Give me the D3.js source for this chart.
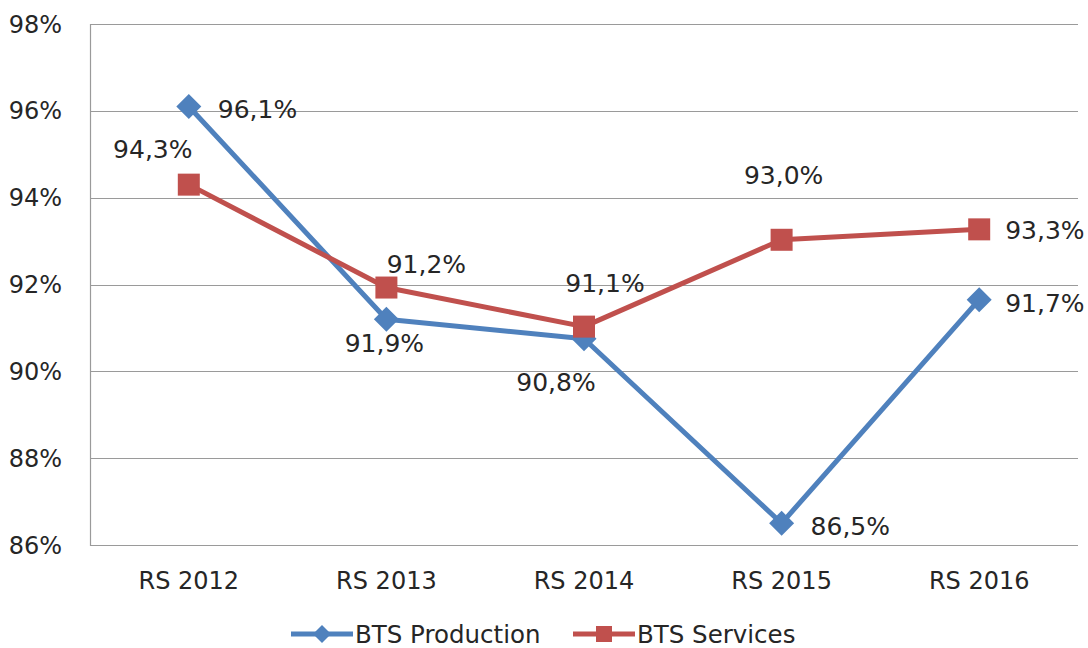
<!DOCTYPE html>
<html><head><meta charset="utf-8">
<script src="https://cdn.jsdelivr.net/npm/d3@7"></script>
<style>
html,body{margin:0;padding:0;background:#fff;}
text{font-family:"DejaVu Sans",sans-serif;fill:#262626;}
</style></head>
<body>
<svg id="chart" width="1088" height="648"></svg>
<script>
const categories = ["RS 2012", "RS 2013", "RS 2014", "RS 2015", "RS 2016"];
const productionValues = [96.1, 91.2, 90.75, 86.5, 91.65];
const servicesValues = [94.3, 91.93, 91.03, 93.03, 93.27];
const productionLabels = ["96,1%", "91,9%", "90,8%", "86,5%", "91,7%"];
const servicesLabels = ["94,3%", "91,2%", "91,1%", "93,0%", "93,3%"];
const yTicks = [86, 88, 90, 92, 94, 96, 98];
const seriesNames = ["BTS Production", "BTS Services"];

// label placement (layout only): [dx, dy, anchor]
const prodLabelPos = [[29, 3, "start"], [-2, 24, "middle"], [-28, 43, "middle"], [29, 3, "start"], [26, 3, "start"]];
const servLabelPos = [[-36, -36, "middle"], [40, -24, "middle"], [21, -44, "middle"], [2, -65, "middle"], [26, 1, "start"]];

const svg = d3.select("#chart");
const m = {left: 90, right: 1078, top: 24, bottom: 545};
const x = d3.scaleBand().domain(categories).range([m.left, m.right]);
const y = d3.scaleLinear().domain([86, 98]).range([m.bottom, m.top]);
const cx = c => x(c) + x.bandwidth() / 2;

// gridlines
svg.append("g").selectAll("line").data(yTicks).join("line")
  .attr("x1", m.left).attr("x2", m.right)
  .attr("y1", d => Math.round(y(d)) + 0.5).attr("y2", d => Math.round(y(d)) + 0.5)
  .attr("stroke", "#9a9a9a").attr("stroke-width", 1.2);
// left axis line
svg.append("line").attr("x1", m.left + 0.5).attr("x2", m.left + 0.5)
  .attr("y1", m.top).attr("y2", m.bottom + 1).attr("stroke", "#9a9a9a").attr("stroke-width", 1.2);

// y tick labels
svg.append("g").selectAll("text").data(yTicks).join("text")
  .attr("x", 62).attr("y", d => y(d)).attr("dy", "0.36em")
  .attr("text-anchor", "end").attr("font-size", 24)
  .text(d => d + "%");

// x labels
svg.append("g").selectAll("text").data(categories).join("text")
  .attr("x", d => cx(d)).attr("y", 589)
  .attr("text-anchor", "middle").attr("font-size", 24)
  .text(d => d);

const line = d3.line().x((d, i) => cx(categories[i])).y(d => y(d));
const blue = "#4F81BD", red = "#C0504D";

svg.append("path").datum(productionValues).attr("d", line)
  .attr("fill", "none").attr("stroke", blue).attr("stroke-width", 5).attr("stroke-linejoin", "round");
svg.append("path").datum(servicesValues).attr("d", line)
  .attr("fill", "none").attr("stroke", red).attr("stroke-width", 5).attr("stroke-linejoin", "round");

// markers
const dia = 12.5;
svg.append("g").selectAll("path").data(productionValues).join("path")
  .attr("d", (d, i) => {
    const px = cx(categories[i]), py = y(d);
    return `M${px},${py - dia}L${px + dia},${py}L${px},${py + dia}L${px - dia},${py}Z`;
  }).attr("fill", blue);
const sq = 22;
svg.append("g").selectAll("rect").data(servicesValues).join("rect")
  .attr("x", (d, i) => cx(categories[i]) - sq / 2).attr("y", d => y(d) - sq / 2)
  .attr("width", sq).attr("height", sq).attr("fill", red);

// data labels
svg.append("g").selectAll("text").data(productionValues).join("text")
  .attr("x", (d, i) => cx(categories[i]) + prodLabelPos[i][0])
  .attr("y", (d, i) => y(d) + prodLabelPos[i][1]).attr("dy", "0.36em")
  .attr("text-anchor", (d, i) => prodLabelPos[i][2]).attr("font-size", 25)
  .text((d, i) => productionLabels[i]);
svg.append("g").selectAll("text").data(servicesValues).join("text")
  .attr("x", (d, i) => cx(categories[i]) + servLabelPos[i][0])
  .attr("y", (d, i) => y(d) + servLabelPos[i][1]).attr("dy", "0.36em")
  .attr("text-anchor", (d, i) => servLabelPos[i][2]).attr("font-size", 25)
  .text((d, i) => servicesLabels[i]);

// legend
const leg = svg.append("g");
const legItems = [{name: seriesNames[0], color: blue, x: 291, type: "d"}, {name: seriesNames[1], color: red, x: 573, type: "s"}];
const ly = 634;
legItems.forEach(it => {
  leg.append("line").attr("x1", it.x).attr("x2", it.x + 62).attr("y1", ly).attr("y2", ly)
    .attr("stroke", it.color).attr("stroke-width", 5);
  const mx = it.x + 31;
  if (it.type === "d") {
    const s = 9;
    leg.append("path").attr("d", `M${mx},${ly - s}L${mx + s},${ly}L${mx},${ly + s}L${mx - s},${ly}Z`).attr("fill", it.color);
  } else {
    leg.append("rect").attr("x", mx - 8).attr("y", ly - 8).attr("width", 16).attr("height", 16).attr("fill", it.color);
  }
  leg.append("text").attr("x", it.x + 64).attr("y", ly).attr("dy", "0.36em").attr("font-size", 24.5).text(it.name);
});
</script>
</body></html>
